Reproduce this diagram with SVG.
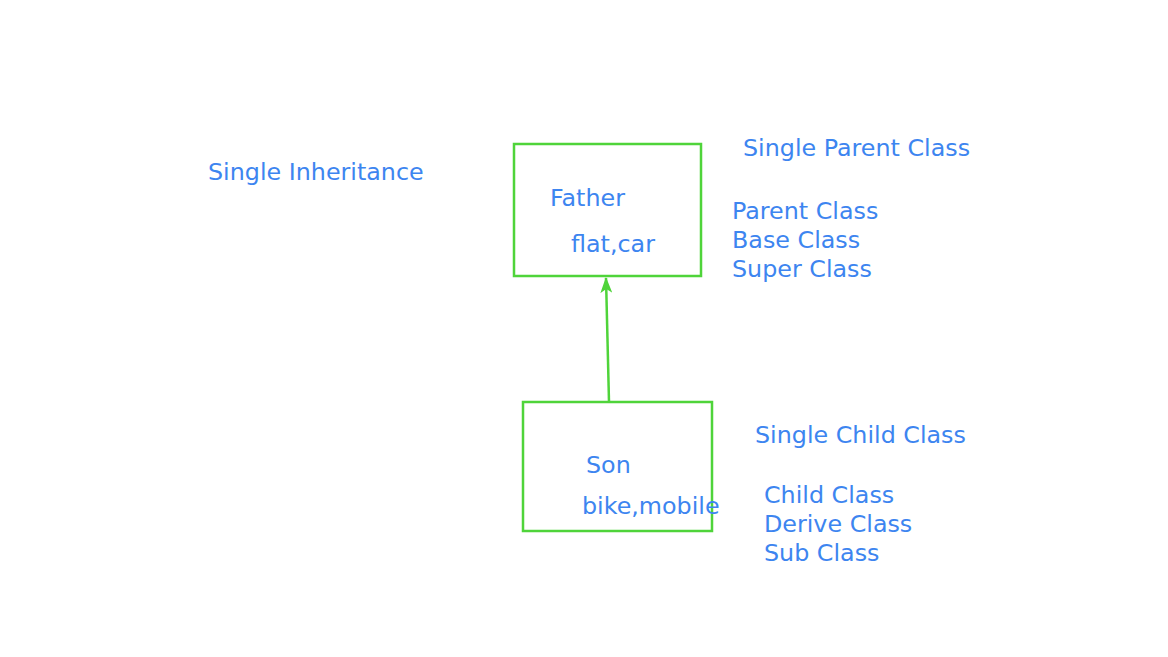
<svg xmlns="http://www.w3.org/2000/svg" width="1168" height="657" viewBox="0 0 1168 657">
<style>
text{font-family:"DejaVu Sans",sans-serif;font-size:23.8px;fill:#3d85f0}
.box{fill:none;stroke:#4fd43a;stroke-width:2.5}
.edge{stroke:#4fd43a;stroke-width:2.5;fill:none}
</style>
<defs>
<marker id="ah" markerWidth="16" markerHeight="12" refX="15" refY="6" orient="auto" markerUnits="userSpaceOnUse">
<path d="M0,0 L16,6 L0,12 L4,6 Z" fill="#4fd43a"/>
</marker>
</defs>
<rect width="1168" height="657" fill="#fff"/>
<g id="title"><text x="208" y="180">Single Inheritance</text></g>
<g id="father">
<rect class="box" x="514" y="144" width="187" height="132"/>
<text x="550" y="206">Father</text>
<text x="571" y="252">flat,car</text>
</g>
<g id="son">
<rect class="box" x="523" y="402" width="189" height="129"/>
<text x="586" y="473">Son</text>
<text x="582" y="514">bike,mobile</text>
</g>
<g id="parent-labels">
<text x="743" y="156">Single Parent Class</text>
<text x="732" y="219">Parent Class</text>
<text x="732" y="248">Base Class</text>
<text x="732" y="277">Super Class</text>
</g>
<g id="child-labels">
<text x="755" y="443">Single Child Class</text>
<text x="764" y="503">Child Class</text>
<text x="764" y="532">Derive Class</text>
<text x="764" y="561">Sub Class</text>
</g>
<g id="connectors">
<line class="edge" x1="609" y1="402" x2="606" y2="278" marker-end="url(#ah)"/>
</g>
</svg>
